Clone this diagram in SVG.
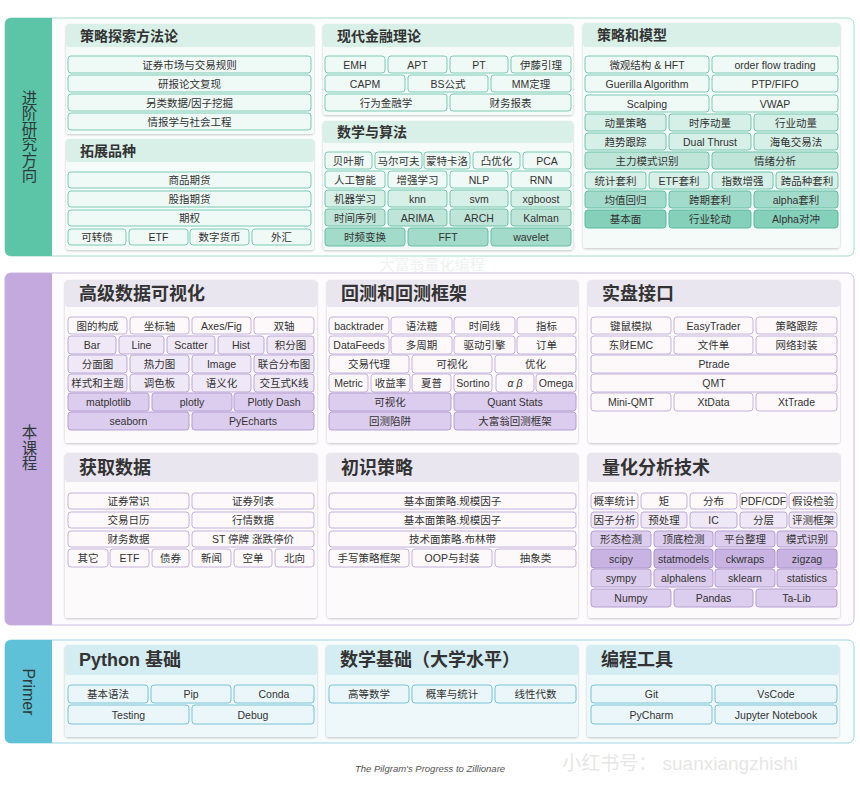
<svg xmlns="http://www.w3.org/2000/svg" width="860" height="801" viewBox="0 0 860 801">
<defs>
<filter id="sh" x="-5%" y="-5%" width="110%" height="115%"><feDropShadow dx="0" dy="1" stdDeviation="1" flood-color="#000" flood-opacity="0.22"/></filter>
<style>
text{font-family:"Liberation Sans","Noto Sans CJK SC",sans-serif;fill:#333}
.t{font-size:10.5px;text-anchor:middle;dominant-baseline:central}
.h{font-size:14px;font-weight:bold;dominant-baseline:central}
.H{font-size:18px;font-weight:bold;dominant-baseline:central}
.v{font-size:15.5px;text-anchor:middle;writing-mode:vertical-rl;fill:#2e3a3a}
rect.c{rx:3;ry:3;stroke-width:1}
.g0{fill:#eff9f6;stroke:#7ccbb5}
.g1{fill:#d6efe7;stroke:#72c6ae}
.g2{fill:#bfe5d9;stroke:#6cc3aa}
.g3{fill:#a2dbc9;stroke:#62bfa5}
.g4{fill:#84d0b9;stroke:#58b99d}
.p0{fill:#fdf9fb;stroke:#c4b2db}
.p1{fill:#efe8f6;stroke:#bea9d8}
.p2{fill:#dccced;stroke:#b69ed4}
.p3{fill:#c9b3e3;stroke:#ab92cd}
.b0{fill:#eaf6f9;stroke:#78c4d6}
.cardT{fill:#f4fbf9;filter:url(#sh)}
.hdT{fill:#d8f0e8}
.cardP{fill:#fdfafb;filter:url(#sh)}
.hdP{fill:#eae6f0}
.cardB{fill:#eef7fa;filter:url(#sh)}
.hdB{fill:#d4edf3}
</style>
</defs>
<rect width="860" height="801" fill="#ffffff"/>

<!-- Band 1 -->
<g id="band-advanced">
<rect x="5" y="18" width="849" height="238" rx="6" fill="#fbfefd" stroke="#a8dccd"/>
<path d="M52,18 H11 Q5,18 5,24 V250 Q5,256 11,256 H52 Z" fill="#5cc5a7"/>
<text class="v" x="28" y="136.5">进阶研究方向</text>
</g>

<g id="card-strategy-method">
<rect class="cardT" x="66" y="24" width="248" height="110" rx="3"/>
<rect class="hdT" x="66" y="24" width="248" height="23" rx="3"/>
<text class="h" x="80" y="35.5">策略探索方法论</text>
<rect class="c g0" x="68" y="56" width="243" height="17"/><text class="t" x="189.5" y="64.5">证券市场与交易规则</text>
<rect class="c g0" x="68" y="75" width="243" height="17"/><text class="t" x="189.5" y="83.5">研报论文复现</text>
<rect class="c g0" x="68" y="94" width="243" height="17"/><text class="t" x="189.5" y="102.5">另类数据/因子挖掘</text>
<rect class="c g0" x="68" y="113" width="243" height="17"/><text class="t" x="189.5" y="121.5">情报学与社会工程</text>
</g>

<g id="card-products">
<rect class="cardT" x="66" y="139" width="248" height="111" rx="3"/>
<rect class="hdT" x="66" y="139" width="248" height="23" rx="3"/>
<text class="h" x="80" y="151">拓展品种</text>
<rect class="c g0" x="68" y="172" width="243" height="16"/><text class="t" x="189.5" y="180">商品期货</text>
<rect class="c g0" x="68" y="191" width="243" height="16"/><text class="t" x="189.5" y="199">股指期货</text>
<rect class="c g0" x="68" y="210" width="243" height="16"/><text class="t" x="189.5" y="218">期权</text>
<rect class="c g0" x="68" y="229" width="58" height="16"/><text class="t" x="97" y="237">可转债</text>
<rect class="c g0" x="129" y="229" width="59" height="16"/><text class="t" x="158.5" y="237">ETF</text>
<rect class="c g0" x="190" y="229" width="59" height="16"/><text class="t" x="219.5" y="237">数字货币</text>
<rect class="c g0" x="252" y="229" width="59" height="16"/><text class="t" x="281.5" y="237">外汇</text>
</g>

<g id="card-finance-theory">
<rect class="cardT" x="323" y="24" width="250" height="91" rx="3"/>
<rect class="hdT" x="323" y="24" width="250" height="23" rx="3"/>
<text class="h" x="337" y="35.5">现代金融理论</text>
<rect class="c g0" x="325" y="56" width="60" height="17"/><text class="t" x="355" y="64.5">EMH</text>
<rect class="c g0" x="388" y="56" width="59" height="17"/><text class="t" x="417.5" y="64.5">APT</text>
<rect class="c g0" x="450" y="56" width="58" height="17"/><text class="t" x="479" y="64.5">PT</text>
<rect class="c g0" x="511" y="56" width="60" height="17"/><text class="t" x="541" y="64.5">伊藤引理</text>
<rect class="c g0" x="325" y="75" width="80" height="17"/><text class="t" x="365" y="83.5">CAPM</text>
<rect class="c g0" x="408" y="75" width="80" height="17"/><text class="t" x="448" y="83.5">BS公式</text>
<rect class="c g0" x="491" y="75" width="80" height="17"/><text class="t" x="531" y="83.5">MM定理</text>
<rect class="c g0" x="325" y="94" width="122" height="17"/><text class="t" x="386" y="102.5">行为金融学</text>
<rect class="c g0" x="450" y="94" width="121" height="17"/><text class="t" x="510.5" y="102.5">财务报表</text>
</g>

<g id="card-math-algo">
<rect class="cardT" x="323" y="121" width="250" height="129" rx="3"/>
<rect class="hdT" x="323" y="121" width="250" height="22" rx="3"/>
<text class="h" x="337" y="132">数学与算法</text>
<rect class="c g0" x="325" y="152" width="47" height="17"/><text class="t" x="348.5" y="160.5">贝叶斯</text>
<rect class="c g0" x="375" y="152" width="47" height="17"/><text class="t" x="398.5" y="160.5">马尔可夫</text>
<rect class="c g0" x="424" y="152" width="46" height="17"/><text class="t" x="447" y="160.5">蒙特卡洛</text>
<rect class="c g0" x="473" y="152" width="47" height="17"/><text class="t" x="496.5" y="160.5">凸优化</text>
<rect class="c g0" x="523" y="152" width="48" height="17"/><text class="t" x="547" y="160.5">PCA</text>
<rect class="c g0" x="325" y="171" width="60" height="17"/><text class="t" x="355" y="179.5">人工智能</text>
<rect class="c g0" x="388" y="171" width="59" height="17"/><text class="t" x="417.5" y="179.5">增强学习</text>
<rect class="c g0" x="450" y="171" width="58" height="17"/><text class="t" x="479" y="179.5">NLP</text>
<rect class="c g0" x="511" y="171" width="60" height="17"/><text class="t" x="541" y="179.5">RNN</text>
<rect class="c g1" x="325" y="190" width="60" height="17"/><text class="t" x="355" y="198.5">机器学习</text>
<rect class="c g1" x="388" y="190" width="59" height="17"/><text class="t" x="417.5" y="198.5">knn</text>
<rect class="c g1" x="450" y="190" width="58" height="17"/><text class="t" x="479" y="198.5">svm</text>
<rect class="c g1" x="511" y="190" width="60" height="17"/><text class="t" x="541" y="198.5">xgboost</text>
<rect class="c g2" x="325" y="209" width="60" height="17"/><text class="t" x="355" y="217.5">时间序列</text>
<rect class="c g2" x="388" y="209" width="59" height="17"/><text class="t" x="417.5" y="217.5">ARIMA</text>
<rect class="c g2" x="450" y="209" width="58" height="17"/><text class="t" x="479" y="217.5">ARCH</text>
<rect class="c g2" x="511" y="209" width="60" height="17"/><text class="t" x="541" y="217.5">Kalman</text>
<rect class="c g3" x="325" y="228" width="80" height="18"/><text class="t" x="365" y="237">时频变换</text>
<rect class="c g3" x="408" y="228" width="80" height="18"/><text class="t" x="448" y="237">FFT</text>
<rect class="c g3" x="491" y="228" width="80" height="18"/><text class="t" x="531" y="237">wavelet</text>
</g>

<g id="card-strategy-model">
<rect class="cardT" x="583" y="23" width="257" height="225" rx="3"/>
<rect class="hdT" x="583" y="23" width="257" height="24" rx="3"/>
<text class="h" x="597" y="35">策略和模型</text>
<rect class="c g0" x="585" y="56" width="124" height="17"/><text class="t" x="647" y="64.5">微观结构 &amp; HFT</text>
<rect class="c g0" x="712" y="56" width="126" height="17"/><text class="t" x="775" y="64.5">order flow trading</text>
<rect class="c g0" x="585" y="75" width="124" height="17"/><text class="t" x="647" y="83.5">Guerilla Algorithm</text>
<rect class="c g0" x="712" y="75" width="126" height="17"/><text class="t" x="775" y="83.5">PTP/FIFO</text>
<rect class="c g0" x="585" y="95" width="124" height="17"/><text class="t" x="647" y="103.5">Scalping</text>
<rect class="c g0" x="712" y="95" width="126" height="17"/><text class="t" x="775" y="103.5">VWAP</text>
<rect class="c g1" x="585" y="114" width="81" height="17"/><text class="t" x="625.5" y="122.5">动量策略</text>
<rect class="c g1" x="669" y="114" width="82" height="17"/><text class="t" x="710" y="122.5">时序动量</text>
<rect class="c g1" x="754" y="114" width="84" height="17"/><text class="t" x="796" y="122.5">行业动量</text>
<rect class="c g1" x="585" y="133" width="81" height="17"/><text class="t" x="625.5" y="141.5">趋势跟踪</text>
<rect class="c g1" x="669" y="133" width="82" height="17"/><text class="t" x="710" y="141.5">Dual Thrust</text>
<rect class="c g1" x="754" y="133" width="84" height="17"/><text class="t" x="796" y="141.5">海龟交易法</text>
<rect class="c g2" x="585" y="152" width="124" height="17"/><text class="t" x="647" y="160.5">主力模式识别</text>
<rect class="c g2" x="712" y="152" width="126" height="17"/><text class="t" x="775" y="160.5">情绪分析</text>
<rect class="c g1" x="585" y="172" width="61" height="17"/><text class="t" x="615.5" y="180.5">统计套利</text>
<rect class="c g1" x="649" y="172" width="60" height="17"/><text class="t" x="679" y="180.5">ETF套利</text>
<rect class="c g1" x="712" y="172" width="61" height="17"/><text class="t" x="742.5" y="180.5">指数增强</text>
<rect class="c g1" x="776" y="172" width="62" height="17"/><text class="t" x="807" y="180.5">跨品种套利</text>
<rect class="c g3" x="585" y="191" width="81" height="17"/><text class="t" x="625.5" y="199.5">均值回归</text>
<rect class="c g3" x="669" y="191" width="82" height="17"/><text class="t" x="710" y="199.5">跨期套利</text>
<rect class="c g3" x="754" y="191" width="84" height="17"/><text class="t" x="796" y="199.5">alpha套利</text>
<rect class="c g4" x="585" y="210" width="81" height="18"/><text class="t" x="625.5" y="219">基本面</text>
<rect class="c g4" x="669" y="210" width="82" height="18"/><text class="t" x="710" y="219">行业轮动</text>
<rect class="c g4" x="754" y="210" width="84" height="18"/><text class="t" x="796" y="219">Alpha对冲</text>
</g>

<text x="432" y="264" font-size="15" text-anchor="middle" dominant-baseline="central" style="fill:#f0f2f2">大富翁量化编程</text>

<!-- Band 2 -->
<g id="band-course">
<rect x="5" y="273" width="849" height="352" rx="6" fill="#fdfbfe" stroke="#cbbde0"/>
<path d="M52,273 H11 Q5,273 5,279 V619 Q5,625 11,625 H52 Z" fill="#c4a9de"/>
<text class="v" x="28" y="448">本课程</text>
</g>

<g id="card-visualization">
<rect class="cardP" x="65" y="280" width="252" height="163" rx="3"/>
<rect class="hdP" x="65" y="280" width="252" height="27" rx="3"/>
<text class="H" x="79" y="293.5">高级数据可视化</text>
<rect class="c p0" x="68" y="317" width="59" height="17"/><text class="t" x="97.5" y="325.5">图的构成</text>
<rect class="c p0" x="130" y="317" width="59" height="17"/><text class="t" x="159.5" y="325.5">坐标轴</text>
<rect class="c p0" x="192" y="317" width="59" height="17"/><text class="t" x="221.5" y="325.5">Axes/Fig</text>
<rect class="c p0" x="254" y="317" width="60" height="17"/><text class="t" x="284" y="325.5">双轴</text>
<rect class="c p1" x="68" y="336" width="48" height="18"/><text class="t" x="92" y="345">Bar</text>
<rect class="c p1" x="119" y="336" width="45" height="18"/><text class="t" x="141.5" y="345">Line</text>
<rect class="c p1" x="167" y="336" width="48" height="18"/><text class="t" x="191" y="345">Scatter</text>
<rect class="c p1" x="218" y="336" width="46" height="18"/><text class="t" x="241" y="345">Hist</text>
<rect class="c p1" x="267" y="336" width="47" height="18"/><text class="t" x="290.5" y="345">积分图</text>
<rect class="c p1" x="68" y="355" width="59" height="18"/><text class="t" x="97.5" y="364">分面图</text>
<rect class="c p1" x="130" y="355" width="59" height="18"/><text class="t" x="159.5" y="364">热力图</text>
<rect class="c p1" x="192" y="355" width="59" height="18"/><text class="t" x="221.5" y="364">Image</text>
<rect class="c p1" x="254" y="355" width="60" height="18"/><text class="t" x="284" y="364">联合分布图</text>
<rect class="c p1" x="68" y="374" width="59" height="18"/><text class="t" x="97.5" y="383">样式和主题</text>
<rect class="c p1" x="130" y="374" width="59" height="18"/><text class="t" x="159.5" y="383">调色板</text>
<rect class="c p1" x="192" y="374" width="59" height="18"/><text class="t" x="221.5" y="383">语义化</text>
<rect class="c p1" x="254" y="374" width="60" height="18"/><text class="t" x="284" y="383">交互式K线</text>
<rect class="c p2" x="68" y="393" width="81" height="18"/><text class="t" x="108.5" y="402">matplotlib</text>
<rect class="c p2" x="152" y="393" width="80" height="18"/><text class="t" x="192" y="402">plotly</text>
<rect class="c p2" x="234" y="393" width="80" height="18"/><text class="t" x="274" y="402">Plotly Dash</text>
<rect class="c p2" x="68" y="412" width="121" height="18"/><text class="t" x="128.5" y="421">seaborn</text>
<rect class="c p2" x="192" y="412" width="122" height="18"/><text class="t" x="253" y="421">PyEcharts</text>
</g>

<g id="card-backtest">
<rect class="cardP" x="327" y="280" width="251" height="163" rx="3"/>
<rect class="hdP" x="327" y="280" width="251" height="27" rx="3"/>
<text class="H" x="341" y="293.5">回测和回测框架</text>
<rect class="c p0" x="329" y="317" width="60" height="17"/><text class="t" x="359" y="325.5">backtrader</text>
<rect class="c p0" x="391" y="317" width="61" height="17"/><text class="t" x="421.5" y="325.5">语法糖</text>
<rect class="c p0" x="454" y="317" width="61" height="17"/><text class="t" x="484.5" y="325.5">时间线</text>
<rect class="c p0" x="517" y="317" width="59" height="17"/><text class="t" x="546.5" y="325.5">指标</text>
<rect class="c p0" x="329" y="336" width="60" height="18"/><text class="t" x="359" y="345">DataFeeds</text>
<rect class="c p0" x="391" y="336" width="61" height="18"/><text class="t" x="421.5" y="345">多周期</text>
<rect class="c p0" x="454" y="336" width="61" height="18"/><text class="t" x="484.5" y="345">驱动引擎</text>
<rect class="c p0" x="517" y="336" width="59" height="18"/><text class="t" x="546.5" y="345">订单</text>
<rect class="c p0" x="329" y="355" width="80" height="18"/><text class="t" x="369" y="364">交易代理</text>
<rect class="c p0" x="412" y="355" width="80" height="18"/><text class="t" x="452" y="364">可视化</text>
<rect class="c p0" x="495" y="355" width="81" height="18"/><text class="t" x="535.5" y="364">优化</text>
<rect class="c p0" x="329" y="374" width="39" height="18"/><text class="t" x="348.5" y="383">Metric</text>
<rect class="c p0" x="371" y="374" width="39" height="18"/><text class="t" x="390.5" y="383">收益率</text>
<rect class="c p0" x="412" y="374" width="39" height="18"/><text class="t" x="431.5" y="383">夏普</text>
<rect class="c p0" x="454" y="374" width="38" height="18"/><text class="t" x="473" y="383">Sortino</text>
<rect class="c p0" x="496" y="374" width="38" height="18"/><text class="t" x="515" y="383" font-style="italic">α β</text>
<rect class="c p0" x="536" y="374" width="40" height="18"/><text class="t" x="556" y="383">Omega</text>
<rect class="c p2" x="329" y="393" width="122" height="18"/><text class="t" x="390" y="402">可视化</text>
<rect class="c p2" x="454" y="393" width="122" height="18"/><text class="t" x="515" y="402">Quant Stats</text>
<rect class="c p2" x="329" y="412" width="122" height="18"/><text class="t" x="390" y="421">回测陷阱</text>
<rect class="c p2" x="454" y="412" width="122" height="18"/><text class="t" x="515" y="421">大富翁回测框架</text>
</g>

<g id="card-live-trading">
<rect class="cardP" x="588" y="280" width="252" height="163" rx="3"/>
<rect class="hdP" x="588" y="280" width="252" height="27" rx="3"/>
<text class="H" x="602" y="293.5">实盘接口</text>
<rect class="c p0" x="591" y="317" width="80" height="17"/><text class="t" x="631" y="325.5">键鼠模拟</text>
<rect class="c p0" x="674" y="317" width="79" height="17"/><text class="t" x="713.5" y="325.5">EasyTrader</text>
<rect class="c p0" x="756" y="317" width="81" height="17"/><text class="t" x="796.5" y="325.5">策略跟踪</text>
<rect class="c p0" x="591" y="336" width="80" height="18"/><text class="t" x="631" y="345">东财EMC</text>
<rect class="c p0" x="674" y="336" width="79" height="18"/><text class="t" x="713.5" y="345">文件单</text>
<rect class="c p0" x="756" y="336" width="81" height="18"/><text class="t" x="796.5" y="345">网络封装</text>
<rect class="c p0" x="591" y="355" width="246" height="18"/><text class="t" x="714" y="364">Ptrade</text>
<rect class="c p0" x="591" y="374" width="246" height="18"/><text class="t" x="714" y="383">QMT</text>
<rect class="c p0" x="591" y="393" width="80" height="18"/><text class="t" x="631" y="402">Mini-QMT</text>
<rect class="c p0" x="674" y="393" width="79" height="18"/><text class="t" x="713.5" y="402">XtData</text>
<rect class="c p0" x="756" y="393" width="81" height="18"/><text class="t" x="796.5" y="402">XtTrade</text>
</g>

<g id="card-get-data">
<rect class="cardP" x="65" y="453" width="252" height="165" rx="3"/>
<rect class="hdP" x="65" y="453" width="252" height="29" rx="3"/>
<text class="H" x="79" y="467.5">获取数据</text>
<rect class="c p0" x="68" y="493" width="121" height="16"/><text class="t" x="128.5" y="501">证券常识</text>
<rect class="c p0" x="192" y="493" width="122" height="16"/><text class="t" x="253" y="501">证券列表</text>
<rect class="c p0" x="68" y="512" width="121" height="16"/><text class="t" x="128.5" y="520">交易日历</text>
<rect class="c p0" x="192" y="512" width="122" height="16"/><text class="t" x="253" y="520">行情数据</text>
<rect class="c p0" x="68" y="531" width="121" height="16"/><text class="t" x="128.5" y="539">财务数据</text>
<rect class="c p0" x="192" y="531" width="122" height="16"/><text class="t" x="253" y="539">ST 停牌 涨跌停价</text>
<rect class="c p0" x="68" y="549" width="40" height="18"/><text class="t" x="88" y="558">其它</text>
<rect class="c p0" x="110" y="549" width="39" height="18"/><text class="t" x="129.5" y="558">ETF</text>
<rect class="c p0" x="152" y="549" width="37" height="18"/><text class="t" x="170.5" y="558">债券</text>
<rect class="c p0" x="192" y="549" width="39" height="18"/><text class="t" x="211.5" y="558">新闻</text>
<rect class="c p0" x="234" y="549" width="38" height="18"/><text class="t" x="253" y="558">空单</text>
<rect class="c p0" x="275" y="549" width="39" height="18"/><text class="t" x="294.5" y="558">北向</text>
</g>

<g id="card-intro-strategy">
<rect class="cardP" x="327" y="453" width="251" height="165" rx="3"/>
<rect class="hdP" x="327" y="453" width="251" height="29" rx="3"/>
<text class="H" x="341" y="467.5">初识策略</text>
<rect class="c p0" x="329" y="493" width="247" height="16"/><text class="t" x="452.5" y="501">基本面策略.规模因子</text>
<rect class="c p0" x="329" y="512" width="247" height="16"/><text class="t" x="452.5" y="520">基本面策略.规模因子</text>
<rect class="c p0" x="329" y="531" width="247" height="16"/><text class="t" x="452.5" y="539">技术面策略.布林带</text>
<rect class="c p0" x="329" y="549" width="80" height="18"/><text class="t" x="369" y="558">手写策略框架</text>
<rect class="c p0" x="412" y="549" width="80" height="18"/><text class="t" x="452" y="558">OOP与封装</text>
<rect class="c p0" x="495" y="549" width="81" height="18"/><text class="t" x="535.5" y="558">抽象类</text>
</g>

<g id="card-quant-analysis">
<rect class="cardP" x="588" y="453" width="252" height="165" rx="3"/>
<rect class="hdP" x="588" y="453" width="252" height="29" rx="3"/>
<text class="H" x="602" y="467.5">量化分析技术</text>
<rect class="c p0" x="591" y="493" width="47" height="16"/><text class="t" x="614.5" y="501">概率统计</text>
<rect class="c p0" x="641" y="493" width="46" height="16"/><text class="t" x="664" y="501">矩</text>
<rect class="c p0" x="690" y="493" width="47" height="16"/><text class="t" x="713.5" y="501">分布</text>
<rect class="c p0" x="740" y="493" width="47" height="16"/><text class="t" x="763.5" y="501">PDF/CDF</text>
<rect class="c p0" x="789" y="493" width="48" height="16"/><text class="t" x="813" y="501">假设检验</text>
<rect class="c p1" x="591" y="512" width="47" height="16"/><text class="t" x="614.5" y="520">因子分析</text>
<rect class="c p1" x="641" y="512" width="46" height="16"/><text class="t" x="664" y="520">预处理</text>
<rect class="c p1" x="690" y="512" width="47" height="16"/><text class="t" x="713.5" y="520">IC</text>
<rect class="c p1" x="740" y="512" width="47" height="16"/><text class="t" x="763.5" y="520">分层</text>
<rect class="c p1" x="789" y="512" width="48" height="16"/><text class="t" x="813" y="520">评测框架</text>
<rect class="c p2" x="591" y="531" width="60" height="16"/><text class="t" x="621" y="539">形态检测</text>
<rect class="c p2" x="654" y="531" width="59" height="16"/><text class="t" x="683.5" y="539">顶底检测</text>
<rect class="c p2" x="715" y="531" width="60" height="16"/><text class="t" x="745" y="539">平台整理</text>
<rect class="c p2" x="777" y="531" width="60" height="16"/><text class="t" x="807" y="539">模式识别</text>
<rect class="c p3" x="591" y="549" width="60" height="19"/><text class="t" x="621" y="558.5">scipy</text>
<rect class="c p3" x="654" y="549" width="59" height="19"/><text class="t" x="683.5" y="558.5">statmodels</text>
<rect class="c p3" x="715" y="549" width="60" height="19"/><text class="t" x="745" y="558.5">ckwraps</text>
<rect class="c p3" x="777" y="549" width="60" height="19"/><text class="t" x="807" y="558.5">zigzag</text>
<rect class="c p2" x="591" y="569" width="60" height="18"/><text class="t" x="621" y="578">sympy</text>
<rect class="c p2" x="654" y="569" width="59" height="18"/><text class="t" x="683.5" y="578">alphalens</text>
<rect class="c p2" x="715" y="569" width="60" height="18"/><text class="t" x="745" y="578">sklearn</text>
<rect class="c p2" x="777" y="569" width="60" height="18"/><text class="t" x="807" y="578">statistics</text>
<rect class="c p2" x="591" y="589" width="80" height="18"/><text class="t" x="631" y="598">Numpy</text>
<rect class="c p2" x="674" y="589" width="79" height="18"/><text class="t" x="713.5" y="598">Pandas</text>
<rect class="c p2" x="756" y="589" width="81" height="18"/><text class="t" x="796.5" y="598">Ta-Lib</text>
</g>

<!-- Band 3 -->
<g id="band-primer">
<rect x="5" y="640" width="849" height="103" rx="6" fill="#f8fcfd" stroke="#9fd6e3"/>
<path d="M52,640 H11 Q5,640 5,646 V737 Q5,743 11,743 H52 Z" fill="#5ec1d7"/>
<text x="28" y="692" font-size="16" text-anchor="middle" dominant-baseline="central" transform="rotate(90 28 692)" style="fill:#2e3a3a">Primer</text>
</g>

<g id="card-python">
<rect class="cardB" x="65" y="645" width="252" height="92" rx="3"/>
<rect class="hdB" x="65" y="645" width="252" height="30" rx="3"/>
<text class="H" x="79" y="660">Python 基础</text>
<rect class="c b0" x="68" y="685" width="80" height="18"/><text class="t" x="108" y="694">基本语法</text>
<rect class="c b0" x="151" y="685" width="80" height="18"/><text class="t" x="191" y="694">Pip</text>
<rect class="c b0" x="234" y="685" width="80" height="18"/><text class="t" x="274" y="694">Conda</text>
<rect class="c b0" x="68" y="705" width="121" height="19"/><text class="t" x="128.5" y="714.5">Testing</text>
<rect class="c b0" x="192" y="705" width="122" height="19"/><text class="t" x="253" y="714.5">Debug</text>
</g>

<g id="card-math-basic">
<rect class="cardB" x="326" y="645" width="252" height="92" rx="3"/>
<rect class="hdB" x="326" y="645" width="252" height="30" rx="3"/>
<text class="H" x="340" y="660">数学基础（大学水平）</text>
<rect class="c b0" x="329" y="685" width="80" height="18"/><text class="t" x="369" y="694">高等数学</text>
<rect class="c b0" x="412" y="685" width="80" height="18"/><text class="t" x="452" y="694">概率与统计</text>
<rect class="c b0" x="495" y="685" width="81" height="18"/><text class="t" x="535.5" y="694">线性代数</text>
</g>

<g id="card-tools">
<rect class="cardB" x="587" y="645" width="252" height="92" rx="3"/>
<rect class="hdB" x="587" y="645" width="252" height="30" rx="3"/>
<text class="H" x="601" y="660">编程工具</text>
<rect class="c b0" x="591" y="685" width="121" height="18"/><text class="t" x="651.5" y="694">Git</text>
<rect class="c b0" x="715" y="685" width="122" height="18"/><text class="t" x="776" y="694">VsCode</text>
<rect class="c b0" x="591" y="705" width="121" height="19"/><text class="t" x="651.5" y="714.5">PyCharm</text>
<rect class="c b0" x="715" y="705" width="122" height="19"/><text class="t" x="776" y="714.5">Jupyter Notebook</text>
</g>

<text x="430" y="768" font-size="9.5" font-style="italic" text-anchor="middle" dominant-baseline="central" style="fill:#555">The Pilgram's Progress to Zillionare</text>
<text x="680" y="763" font-size="19" text-anchor="middle" dominant-baseline="central" style="fill:#e6e6e6">小红书号： suanxiangzhishi</text>
</svg>
